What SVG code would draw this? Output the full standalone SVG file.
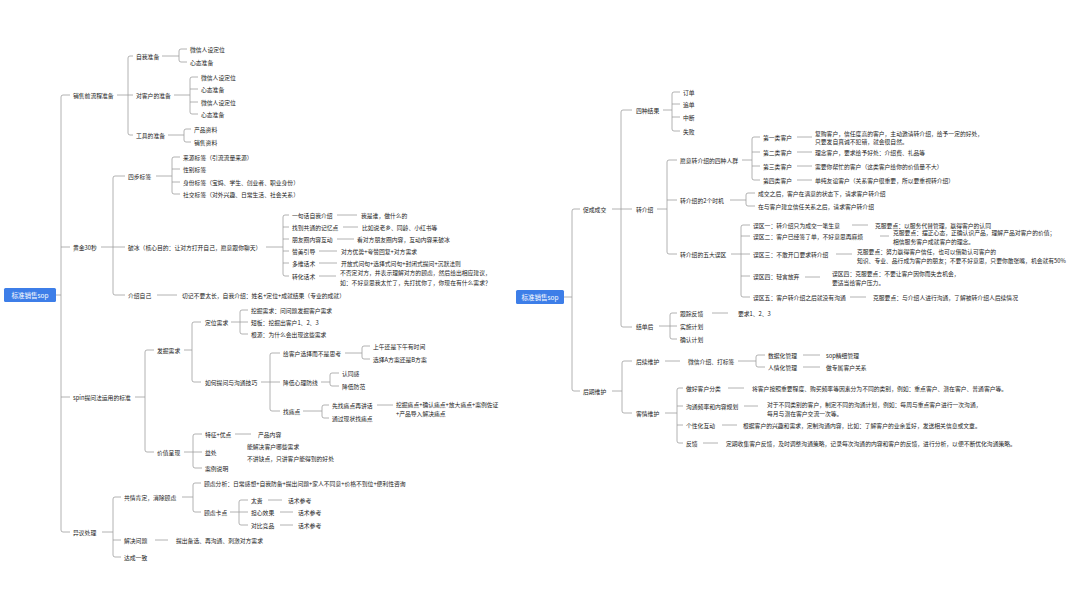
<svg xmlns="http://www.w3.org/2000/svg" width="1080" height="608" viewBox="0 0 1080 608">
<style>
.t{font-family:"Noto Sans CJK SC","Noto Sans",sans-serif;font-size:5.8px;fill:#222;dominant-baseline:central}
.r{font-family:"Noto Sans CJK SC","Noto Sans",sans-serif;font-size:6.5px;fill:#fff;dominant-baseline:central;text-anchor:middle}
.c{fill:none;stroke:#9e9e9e;stroke-width:0.8}
.box{fill:#3d7ee8}
</style>
<rect width="1080" height="608" fill="#fff"/>
<g id="connectors" class="c">
<path d="M56,295H61M70,95H63Q61,95 61,97V530Q61,532 63,532H70M61,247H70M61,397H70"/>
<path d="M117,95H133M133,56H130Q128,56 128,58V133Q128,135 130,135H133"/>
<path d="M162,56H179M187,49H181Q179,49 179,51V60Q179,62 181,62H187"/>
<path d="M174,95H190M198,77H192Q190,77 190,79V112Q190,114 192,114H198M190,89H198M190,102H198"/>
<path d="M168,135H184M191,129H186Q184,129 184,131V140Q184,142 186,142H191"/>
<path d="M101,247H125M125,176H115Q113,176 113,178V293Q113,295 115,295H125"/>
<path d="M156,176H172M180,157H174Q172,157 172,159V192Q172,194 174,194H180M172,169H180M172,182H180"/>
<path d="M266,247H283M289,215H285Q283,215 283,217V274Q283,276 285,276H289M283,227H289M283,239H289M283,251H289M283,263H289"/>
<path d="M337,215H357M343,227H358M337,239H354M319,251H337M319,263H337M319,276H336M157,295H177"/>
<path d="M135,397H145M154,350H147Q145,350 145,352V450Q145,452 147,452H154"/>
<path d="M184,350H192M201,322H194Q192,322 192,324V380Q192,382 194,382H201"/>
<path d="M231,322H248M248,310H242Q240,310 240,312V332Q240,334 242,334H248"/>
<path d="M261,382H280M280,353H272Q270,353 270,355V409Q270,411 272,411H280"/>
<path d="M345,353H362M370,346H364Q362,346 362,348V357Q362,359 364,359H370"/>
<path d="M321,382H330M339,373H332Q330,373 330,375V384Q330,386 332,386H339"/>
<path d="M303,411H322M329,405H324Q322,405 322,407V416Q322,418 324,418H329M377,405H393"/>
<path d="M184,452H202M202,434H195Q193,434 193,436V466Q193,468 195,468H202M235,434H251"/>
<path d="M102,532H113M121,497H115Q113,497 113,499V555Q113,557 115,557H121M113,540H121"/>
<path d="M182,497H193M201,483H195Q193,483 193,485V510Q193,512 195,512H201"/>
<path d="M230,512H248M248,500H241Q239,500 239,502V523Q239,525 241,525H248M268,500H282M280,512H293M280,525H293M155,540H168"/>
<path d="M564,297H572M580,209H574Q572,209 572,211V389Q572,391 574,391H580"/>
<path d="M612,209H632M632,110H623Q621,110 621,112V325Q621,327 623,327H632"/>
<path d="M663,110H672M680,92H674Q672,92 672,94V129Q672,131 674,131H680M672,104H680M672,117H680"/>
<path d="M657,209H667M677,160H669Q667,160 667,162V252Q667,254 669,254H677M667,200H677"/>
<path d="M742,160H752M760,137H754Q752,137 752,139V178Q752,180 754,180H760M752,152H760M752,166H760M797,137H812M797,152H812M797,166H812M797,180H812"/>
<path d="M730,200H746M755,193H748Q746,193 746,195V204Q746,206 748,206H755"/>
<path d="M731,254H750M750,225H743Q741,225 741,227V295Q741,297 743,297H750M741,236H750M741,276H750"/>
<path d="M852,225H868M880,236H889M836,254H852M805,277H820M850,297H866"/>
<path d="M659,326H677M677,313H672Q670,313 670,315V337Q670,339 672,339H677M712,313H728"/>
<path d="M612,391H622M632,361H624Q622,361 622,363V411Q622,413 624,413H632"/>
<path d="M665,361H680M738,361H756M765,355H758Q756,355 756,357V365Q756,367 758,367H765M803,355H820M803,367H820"/>
<path d="M665,413H677M683,388H679Q677,388 677,390V441Q677,443 679,443H683M677,406H683M677,425H683"/>
<path d="M728,388H744M744,406H758M722,425H737M703,443H718"/>
</g>
<g id="rootL"><rect class="box" x="4" y="288" width="52" height="14" rx="1.5"/><text class="r" x="30" y="295">标准销售sop</text></g>
<g id="l1"><text class="t" x="73" y="95">销售前流程准备</text></g>
<g id="l1a"><text class="t" x="136" y="56">自我准备</text></g>
<g id="l1a1"><text class="t" x="190" y="49">微信人设定位</text></g>
<g id="l1a2"><text class="t" x="190" y="62">心态准备</text></g>
<g id="l1b"><text class="t" x="136" y="95">对客户的准备</text></g>
<g id="l1b1"><text class="t" x="201" y="77">微信人设定位</text></g>
<g id="l1b2"><text class="t" x="201" y="89">心态准备</text></g>
<g id="l1b3"><text class="t" x="201" y="102">微信人设定位</text></g>
<g id="l1b4"><text class="t" x="201" y="114">心态准备</text></g>
<g id="l1c"><text class="t" x="136" y="135">工具的准备</text></g>
<g id="l1c1"><text class="t" x="194" y="129">产品资料</text></g>
<g id="l1c2"><text class="t" x="194" y="142">销售资料</text></g>
<g id="l2"><text class="t" x="73" y="247">黄金30秒</text></g>
<g id="l2a"><text class="t" x="128" y="176">四步标签</text></g>
<g id="l2a1"><text class="t" x="183" y="157">来源标签（引流流量来源）</text></g>
<g id="l2a2"><text class="t" x="183" y="169">性别标签</text></g>
<g id="l2a3"><text class="t" x="183" y="182">身份标签（宝妈、学生、创业者、职业身份）</text></g>
<g id="l2a4"><text class="t" x="183" y="194">社交标签（对外兴趣、日常生活、社会关系）</text></g>
<g id="l2b"><text class="t" x="128" y="247">破冰（核心目的：让对方打开自己，愿意跟你聊天）</text></g>
<g id="l2b1"><text class="t" x="292" y="215">一句话自我介绍</text></g>
<g id="l2b1a"><text class="t" x="361" y="215">我是谁，做什么的</text></g>
<g id="l2b2"><text class="t" x="292" y="227">找到共通的记忆点</text></g>
<g id="l2b2a"><text class="t" x="362" y="227">比如说老乡、同龄、小红书等</text></g>
<g id="l2b3"><text class="t" x="292" y="239">朋友圈内容互动</text></g>
<g id="l2b3a"><text class="t" x="357" y="239">看对方朋友圈内容，互动内容来破冰</text></g>
<g id="l2b4"><text class="t" x="292" y="251">赞美引导</text></g>
<g id="l2b4a"><text class="t" x="341" y="251">对方优势+夸赞回复+对方需求</text></g>
<g id="l2b5"><text class="t" x="292" y="263">多维话术</text></g>
<g id="l2b5a"><text class="t" x="341" y="263">开放式问句+选择式问句+封闭式提问+沉默法则</text></g>
<g id="l2b6"><text class="t" x="292" y="276">转化话术</text></g>
<g id="l2b6a"><text class="t" x="340" y="272">不否定对方，并表示理解对方的顾虑，然后给出相应建议，</text><text class="t" x="340" y="282">如：不好意思我太忙了，先打扰你了，你现在有什么需求？</text></g>
<g id="l2c"><text class="t" x="128" y="295">介绍自己</text></g>
<g id="l2c1"><text class="t" x="182" y="295">切记不要太长，自我介绍：姓名+定位+成就结果（专业的成就）</text></g>
<g id="l3"><text class="t" x="73" y="397">spin提问法运用的标准</text></g>
<g id="l3a"><text class="t" x="157" y="350">发掘需求</text></g>
<g id="l3a1"><text class="t" x="205" y="322">定位需求</text></g>
<g id="l3a1a"><text class="t" x="251" y="310">挖掘需求：问问题发掘客户需求</text></g>
<g id="l3a1b"><text class="t" x="251" y="322">短板：挖掘出客户1、2、3</text></g>
<g id="l3a1c"><text class="t" x="251" y="334">根源：为什么会出现这些需求</text></g>
<g id="l3a2"><text class="t" x="205" y="382">如何提问与沟通技巧</text></g>
<g id="l3a2a"><text class="t" x="283" y="353">给客户选择而不是思考</text></g>
<g id="l3a2a1"><text class="t" x="373" y="346">上午还是下午有时间</text></g>
<g id="l3a2a2"><text class="t" x="373" y="359">选择A方案还是B方案</text></g>
<g id="l3a2b"><text class="t" x="283" y="382">降低心理防线</text></g>
<g id="l3a2b1"><text class="t" x="342" y="373">认同感</text></g>
<g id="l3a2b2"><text class="t" x="342" y="386">降低防范</text></g>
<g id="l3a2c"><text class="t" x="283" y="411">找痛点</text></g>
<g id="l3a2c1"><text class="t" x="332" y="405">先找痛点再讲话</text></g>
<g id="l3a2c1a"><text class="t" x="396" y="404">挖掘痛点+确认痛点+放大痛点+案例佐证</text><text class="t" x="396" y="413">+产品导入解决痛点</text></g>
<g id="l3a2c2"><text class="t" x="332" y="418">通过现状找痛点</text></g>
<g id="l3b"><text class="t" x="157" y="452">价值呈现</text></g>
<g id="l3b1"><text class="t" x="205" y="434">特征+优点</text></g>
<g id="l3b1a"><text class="t" x="258" y="434">产品内容</text></g>
<g id="l3b2"><text class="t" x="205" y="452">益处</text></g>
<g id="l3b2a"><text class="t" x="247" y="446">能解决客户哪些需求</text></g>
<g id="l3b2b"><text class="t" x="247" y="458">不讲缺点，只讲客户能得到的好处</text></g>
<g id="l3b3"><text class="t" x="205" y="468">案例说明</text></g>
<g id="l4"><text class="t" x="73" y="532">异议处理</text></g>
<g id="l4a"><text class="t" x="124" y="497">共情肯定，消除顾虑</text></g>
<g id="l4a1"><text class="t" x="204" y="483">顾虑分析：日常感想+自我防备+提出问题+家人不同意+价格不到位+便利性咨询</text></g>
<g id="l4a2"><text class="t" x="204" y="512">顾虑卡点</text></g>
<g id="l4a2a"><text class="t" x="251" y="500">太贵</text></g>
<g id="l4a2a1"><text class="t" x="288" y="500">话术参考</text></g>
<g id="l4a2b"><text class="t" x="251" y="512">担心效果</text></g>
<g id="l4a2b1"><text class="t" x="298" y="512">话术参考</text></g>
<g id="l4a2c"><text class="t" x="251" y="525">对比竞品</text></g>
<g id="l4a2c1"><text class="t" x="298" y="525">话术参考</text></g>
<g id="l4b"><text class="t" x="124" y="540">解决问题</text></g>
<g id="l4b1"><text class="t" x="176" y="540">提出备选、再沟通、刺激对方需求</text></g>
<g id="l4c"><text class="t" x="124" y="557">达成一致</text></g>
<g id="rootR"><rect class="box" x="516" y="290" width="48" height="14" rx="1.5"/><text class="r" x="540" y="297">标准销售sop</text></g>
<g id="r1"><text class="t" x="583" y="209">促成成交</text></g>
<g id="r1a"><text class="t" x="636" y="110">四种结果</text></g>
<g id="r1a1"><text class="t" x="683" y="92">订单</text></g>
<g id="r1a2"><text class="t" x="683" y="104">追单</text></g>
<g id="r1a3"><text class="t" x="683" y="117">中断</text></g>
<g id="r1a4"><text class="t" x="683" y="131">失败</text></g>
<g id="r1b"><text class="t" x="636" y="209">转介绍</text></g>
<g id="r1b1"><text class="t" x="680" y="160">愿意转介绍的四种人群</text></g>
<g id="r1b1a"><text class="t" x="763" y="137">第一类客户</text></g>
<g id="r1b1a1"><text class="t" x="815" y="133">复购客户，信任度高的客户，主动邀请转介绍，给予一定的好处，</text><text class="t" x="815" y="141">只要发自真诚不犯错，就会很自然。</text></g>
<g id="r1b1b"><text class="t" x="763" y="152">第二类客户</text></g>
<g id="r1b1b1"><text class="t" x="815" y="152">理念客户，要求给予好处：介绍费、礼品等</text></g>
<g id="r1b1c"><text class="t" x="763" y="166">第三类客户</text></g>
<g id="r1b1c1"><text class="t" x="815" y="166">需要你帮忙的客户（这类客户给你的价值量不大）</text></g>
<g id="r1b1d"><text class="t" x="763" y="180">第四类客户</text></g>
<g id="r1b1d1"><text class="t" x="815" y="180">单纯友谊客户（关系客户很重要，所以要重视转介绍）</text></g>
<g id="r1b2"><text class="t" x="680" y="200">转介绍的2个时机</text></g>
<g id="r1b2a"><text class="t" x="758" y="193">成交之后，客户在满意的状态下，请求客户转介绍</text></g>
<g id="r1b2b"><text class="t" x="758" y="206">在与客户建立信任关系之后，请求客户转介绍</text></g>
<g id="r1b3"><text class="t" x="680" y="254">转介绍的五大误区</text></g>
<g id="r1b3a"><text class="t" x="753" y="225">误区一：转介绍只为成交一笔生意</text></g>
<g id="r1b3a1"><text class="t" x="875" y="225">克服要点：以服务代替管理，赢得客户的认同</text></g>
<g id="r1b3b"><text class="t" x="753" y="236">误区二：客户已经签了单，不好意思再麻烦</text></g>
<g id="r1b3b1"><text class="t" x="893" y="232">克服要点：摆正心态，正确认识产品，理解产品对客户的价值；</text><text class="t" x="893" y="241">相信服务客户成就客户的理念。</text></g>
<g id="r1b3c"><text class="t" x="753" y="254">误区三：不敢开口要求转介绍</text></g>
<g id="r1b3c1"><text class="t" x="857" y="251">克服要点：努力赢得客户信任，也可以借助认可客户的</text><text class="t" x="857" y="260">知识、专业、品行成为客户的朋友；不要不好意思，只要你敢张嘴，机会就有50%</text></g>
<g id="r1b3d"><text class="t" x="753" y="276">误区四：轻言放弃</text></g>
<g id="r1b3d1"><text class="t" x="832" y="273">误区四：克服要点：不要让客户因你而失去机会，</text><text class="t" x="832" y="282">要适当给客户压力。</text></g>
<g id="r1b3e"><text class="t" x="753" y="297">误区五：客户转介绍之后就没有沟通</text></g>
<g id="r1b3e1"><text class="t" x="873" y="297">克服要点：与介绍人进行沟通，了解被转介绍人后续情况</text></g>
<g id="r1c"><text class="t" x="636" y="326">结单后</text></g>
<g id="r1c1"><text class="t" x="680" y="313">跟踪反馈</text></g>
<g id="r1c1a"><text class="t" x="738" y="313">要求1、2、3</text></g>
<g id="r1c2"><text class="t" x="680" y="326">实施计划</text></g>
<g id="r1c3"><text class="t" x="680" y="339">确认计划</text></g>
<g id="r2"><text class="t" x="583" y="391">后期维护</text></g>
<g id="r2a"><text class="t" x="636" y="361">后续维护</text></g>
<g id="r2a1"><text class="t" x="688" y="361">微信介绍、打标签</text></g>
<g id="r2a1a"><text class="t" x="768" y="355">数据化管理</text></g>
<g id="r2a1a1"><text class="t" x="826" y="355">sop精细管理</text></g>
<g id="r2a1b"><text class="t" x="768" y="367">人情化管理</text></g>
<g id="r2a1b1"><text class="t" x="826" y="367">做专属客户关系</text></g>
<g id="r2b"><text class="t" x="636" y="413">客情维护</text></g>
<g id="r2b1"><text class="t" x="686" y="388">做好客户分类</text></g>
<g id="r2b1a"><text class="t" x="752" y="388">将客户按照重要程度、购买频率等因素分为不同的类别，例如：重点客户、潜在客户、普通客户等。</text></g>
<g id="r2b2"><text class="t" x="686" y="406">沟通频率和内容规划</text></g>
<g id="r2b2a"><text class="t" x="767" y="404">对于不同类别的客户，制定不同的沟通计划，例如：每周与重点客户进行一次沟通，</text><text class="t" x="767" y="413">每月与潜在客户交流一次等。</text></g>
<g id="r2b3"><text class="t" x="686" y="425">个性化互动</text></g>
<g id="r2b3a"><text class="t" x="743" y="425">根据客户的兴趣和需求，定制沟通内容，比如：了解客户的业余爱好，发送相关信息或文章。</text></g>
<g id="r2b4"><text class="t" x="686" y="443">反馈</text></g>
<g id="r2b4a"><text class="t" x="726" y="443">定期收集客户反馈，及时调整沟通策略，记录每次沟通的内容和客户的反馈，进行分析，以便不断优化沟通策略。</text></g>
</svg>
